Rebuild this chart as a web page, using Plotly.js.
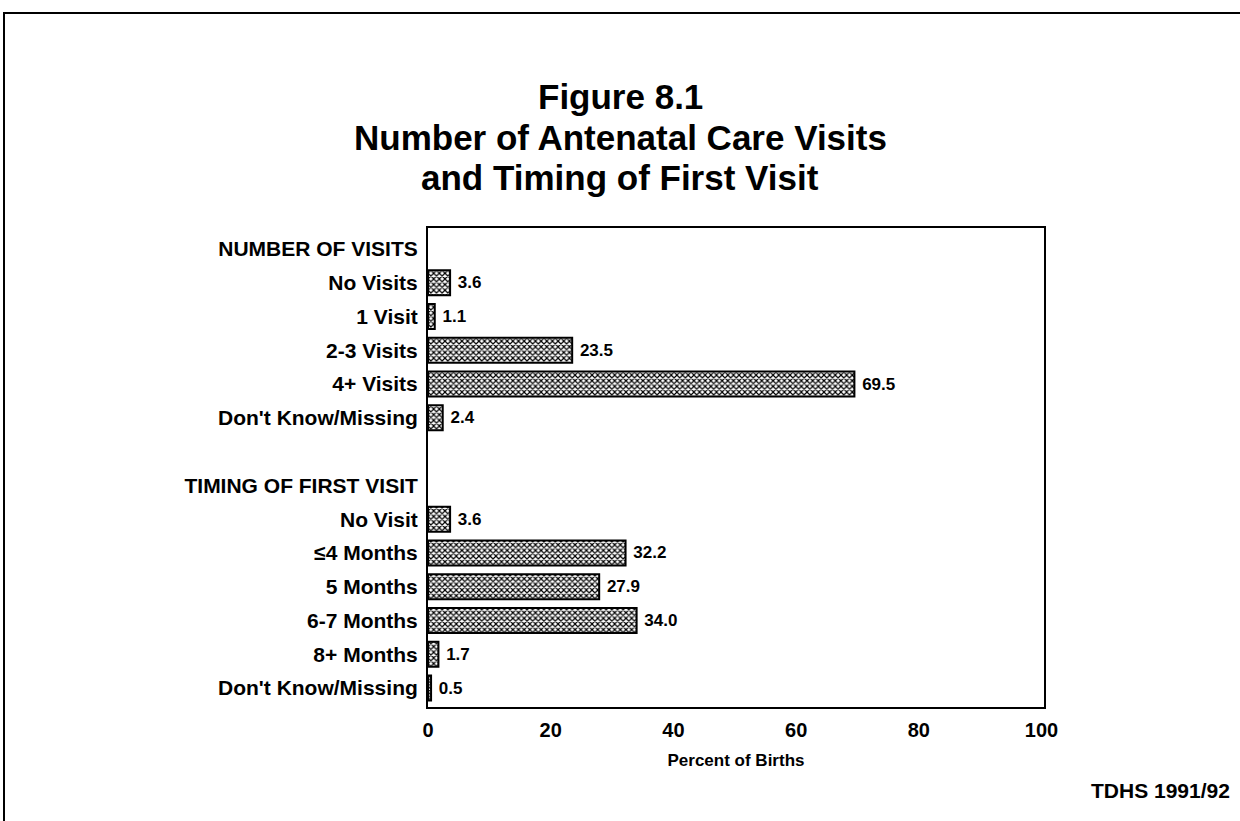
<!DOCTYPE html>
<html>
<head>
<meta charset="utf-8">
<script src="https://cdn.plot.ly/plotly-3.0.1.min.js"></script>
<style>
  html, body { margin: 0; padding: 0; background: #fff; }
  #frame { position: absolute; left: 3px; top: 12px; width: 1237px; height: 809px;
           border-top: 2px solid #000; border-left: 2px solid #000; }
  #graph { position: absolute; left: 0; top: 0; width: 1240px; height: 821px; }
</style>
</head>
<body>
<div id="frame"></div>
<div id="graph"></div>
<script>
// rows top to bottom, headers and the spacer get no bar
const categories = [
  "NUMBER OF VISITS", "No Visits", "1 Visit", "2-3 Visits", "4+ Visits", "Don't Know/Missing\u200b",
  " ",
  "TIMING OF FIRST VISIT", "No Visit", "≤4 Months", "5 Months", "6-7 Months", "8+ Months", "Don't Know/Missing"
];
const percents = [null, 3.6, 1.1, 23.5, 69.5, 2.4, null, null, 3.6, 32.2, 27.9, 34.0, 1.7, 0.5];

const xTicks = [0, 20, 40, 60, 80, 100];

const titleLines = ["Figure 8.1", "Number of Antenatal Care Visits", "and Timing of First Visit"];

const font = "Liberation Sans, Arial, sans-serif";

const trace = {
  type: "bar",
  orientation: "h",
  x: percents,
  y: categories,
  width: 0.74,
  marker: {
    color: "#fff",
    line: { color: "#000", width: 2 },
    pattern: { shape: "x", size: 4, solidity: 0.5, fgcolor: "#000", bgcolor: "#fff" }
  },
  texttemplate: "\u00a0%{x:.1f}",
  textposition: "outside",
  cliponaxis: false,
  textfont: { family: font, size: 17, color: "#000", weight: "bold" },
  hoverinfo: "none"
};

// plot area in page pixels
const plotTop = 228, plotBottom = 707, plotLeft = 428, plotRight = 1044;
const toPaperY = (py) => (plotBottom - py) / (plotBottom - plotTop);
const toPaperX = (px) => (px - plotLeft) / (plotRight - plotLeft);

// title lines set one by one to get the tight leading of the original
const titleAnnotations = titleLines.map((line, i) => ({
  text: "<b>" + line + "</b>",
  xref: "paper", yref: "paper",
  x: toPaperX(620), y: toPaperY(97 + i * 40),
  xanchor: "center", yanchor: "middle",
  showarrow: false,
  font: { family: font, size: 35, color: "#000" }
}));

const layout = {
  width: 1240,
  height: 821,
  margin: { l: plotLeft, r: 1240 - plotRight, t: plotTop, b: 821 - plotBottom },
  paper_bgcolor: "rgba(0,0,0,0)",
  plot_bgcolor: "rgba(0,0,0,0)",
  showlegend: false,
  font: { family: font, color: "#000" },
  xaxis: {
    range: [0, 100.4],
    tickvals: xTicks,
    ticks: "",
    showgrid: false,
    zeroline: false,
    showline: true, mirror: true, linecolor: "#000", linewidth: 2,
    ticklabelstandoff: 4,
    tickfont: { family: font, size: 20, weight: "bold" },
    title: { text: "<b>Percent of Births</b>", font: { family: font, size: 17 }, standoff: 14 }
  },
  yaxis: {
    type: "category",
    categoryorder: "array",
    categoryarray: categories,
    range: [13.56, -0.62],
    ticks: "",
    showgrid: false,
    zeroline: false,
    showline: true, mirror: true, linecolor: "#000", linewidth: 2,
    ticklabelstandoff: 4,
    tickfont: { family: font, size: 21, weight: "bold" }
  },
  annotations: titleAnnotations.concat([{
    text: "<b>TDHS 1991/92</b>",
    xref: "paper", yref: "paper",
    x: toPaperX(1232), y: toPaperY(790),
    xanchor: "right", yanchor: "middle",
    showarrow: false,
    font: { family: font, size: 21, color: "#000" }
  }])
};

Plotly.newPlot("graph", [trace], layout, { staticPlot: true });
</script>
</body>
</html>
